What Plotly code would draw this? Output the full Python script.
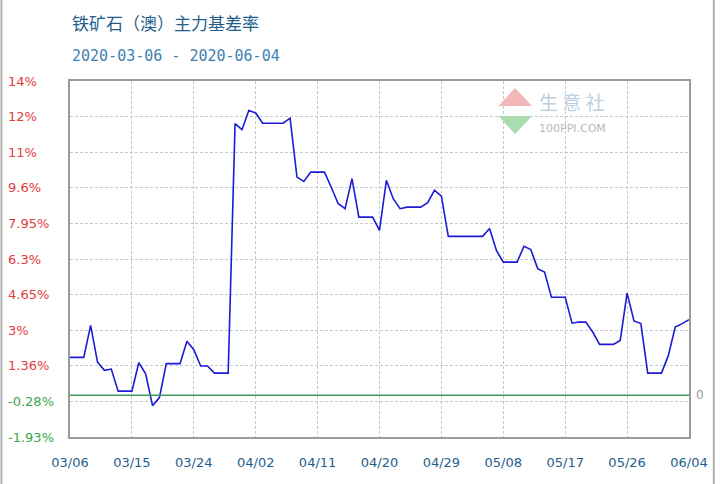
import pandas as pd
import plotly.graph_objects as go

title_text = "铁矿石（澳）主力基差率"
subtitle_text = "2020-03-06 - 2020-06-04"
start_date = "2020-03-06"
end_date = "2020-06-04"

# daily values (%), 2020-03-06 .. 2020-06-04
basis_rate = [
    1.75, 1.75, 1.75, 3.23, 1.53, 1.15, 1.21, 0.19, 0.19, 0.19,
    1.50, 0.99, -0.48, -0.11, 1.46, 1.46, 1.46, 2.49, 2.10, 1.35,
    1.35, 1.02, 1.02, 1.02, 12.55, 12.27, 13.16, 13.04, 12.57, 12.57,
    12.57, 12.57, 12.80, 10.08, 9.88, 10.31, 10.31, 10.31, 9.60, 8.85,
    8.62, 10.01, 8.23, 8.23, 8.23, 7.62, 9.93, 9.08, 8.62, 8.69,
    8.69, 8.69, 8.90, 9.47, 9.20, 7.34, 7.34, 7.34, 7.34, 7.34,
    7.34, 7.70, 6.69, 6.15, 6.15, 6.15, 6.88, 6.73, 5.85, 5.69,
    4.53, 4.53, 4.53, 3.33, 3.38, 3.38, 2.92, 2.35, 2.35, 2.35,
    2.53, 4.72, 3.43, 3.31, 1.02, 1.02, 1.02, 1.84, 3.15, 3.31,
    3.49,
]
dates = pd.date_range(start_date, end_date, freq="D")

x_tick_labels = ["03/06", "03/15", "03/24", "04/02", "04/11", "04/20",
                 "04/29", "05/08", "05/17", "05/26", "06/04"]
x_tick_dates = pd.date_range(start_date, periods=len(x_tick_labels), freq="9D")

y_tick_labels = ["-1.93%", "-0.28%", "1.36%", "3%", "4.65%", "6.3%",
                 "7.95%", "9.6%", "11%", "12%", "14%"]
y_min = -1.93
y_step = 1.645
y_tick_vals = [y_min + i * y_step for i in range(len(y_tick_labels))]
zero_line_value = 0

# plot-area geometry (pixels)
W, H = 720, 484
L, R, T, B = 70, 693, 81, 437
def px(x):
    return (x - L) / (R - L)
def py(y):
    return (B - y) / (B - T)

fig = go.Figure()
fig.add_trace(go.Scatter(
    x=dates, y=basis_rate, mode="lines",
    line=dict(color="#1c1cd6", width=1.6),
    hoverinfo="x+y", showlegend=False,
))
fig.add_trace(go.Scatter(
    x=[dates[0], dates[-1]], y=[zero_line_value, zero_line_value], mode="lines",
    line=dict(color="#3f9a5e", width=1.5), hoverinfo="skip", showlegend=False,
))

annotations = []
for v, t in zip(y_tick_vals, y_tick_labels):
    annotations.append(dict(
        x=px(6), xref="paper", y=v, yref="y", text=t, showarrow=False,
        xanchor="left", yanchor="middle",
        font=dict(family="DejaVu Sans", size=13,
                  color="#3aa64a" if t.startswith("-") else "#e23b3b"),
    ))
annotations += [
    dict(x=px(70), xref="paper", y=py(22), yref="paper", text=title_text,
         showarrow=False, xanchor="left", yanchor="middle",
         font=dict(family="Noto Sans CJK SC", size=17, color="#1f5e8c")),
    dict(x=px(70), xref="paper", y=py(56), yref="paper", text=subtitle_text,
         showarrow=False, xanchor="left", yanchor="middle",
         font=dict(family="DejaVu Sans Mono", size=15, color="#3f7fb2")),
    dict(x=px(698), xref="paper", y=zero_line_value, yref="y", text="0",
         showarrow=False, xanchor="left", yanchor="middle",
         font=dict(family="DejaVu Sans", size=12, color="#999999")),
    dict(x=px(540), xref="paper", y=py(101), yref="paper", text="生 意 社",
         showarrow=False, xanchor="left", yanchor="middle",
         font=dict(family="Noto Sans CJK SC", size=19, color="#bccfe0")),
    dict(x=px(540), xref="paper", y=py(128), yref="paper", text="100PPI.COM",
         showarrow=False, xanchor="left", yanchor="middle",
         font=dict(family="DejaVu Sans", size=11, color="#b8b8b8")),
]

shapes = [
    # watermark logo triangles
    dict(type="path", xref="paper", yref="paper",
         path=f"M {px(518)},{py(88)} L {px(535)},{py(106)} L {px(501)},{py(106)} Z",
         fillcolor="#f2b8b8", line=dict(width=0)),
    dict(type="path", xref="paper", yref="paper",
         path=f"M {px(501)},{py(116)} L {px(535)},{py(116)} L {px(518)},{py(134)} Z",
         fillcolor="#a9dcae", line=dict(width=0)),
    # outer image borders
    dict(type="line", xref="paper", yref="paper", x0=px(1), x1=px(1),
         y0=py(0), y1=py(H), line=dict(color="#b0b0b0", width=2)),
    dict(type="line", xref="paper", yref="paper", x0=px(718), x1=px(718),
         y0=py(0), y1=py(H), line=dict(color="#b0b0b0", width=2)),
]

fig.update_layout(
    width=W, height=H,
    margin=dict(l=L, r=W - R, t=T, b=H - B),
    paper_bgcolor="white", plot_bgcolor="white",
    annotations=annotations, shapes=shapes,
    xaxis=dict(
        range=[dates[0], dates[-1]],
        tickvals=x_tick_dates, ticktext=x_tick_labels,
        showgrid=True, gridcolor="#c8c8c8", griddash="3px,2px", gridwidth=1,
        showline=True, linecolor="#9a9a9a", linewidth=1.5, mirror=True,
        ticks="", ticklabelstandoff=13,
        tickfont=dict(family="DejaVu Sans", size=13, color="#1f5e8c"),
        zeroline=False,
    ),
    yaxis=dict(
        range=[y_min, y_min + 10 * y_step],
        tickvals=y_tick_vals, showticklabels=False,
        showgrid=True, gridcolor="#c8c8c8", griddash="3px,2px", gridwidth=1,
        showline=True, linecolor="#9a9a9a", linewidth=1.5, mirror=True,
        ticks="", zeroline=False,
    ),
)

fig.write_html(
    "out.html",
    config={"displayModeBar": False},
    post_script="document.body.style.margin='0';document.body.style.overflow='hidden';",
)
